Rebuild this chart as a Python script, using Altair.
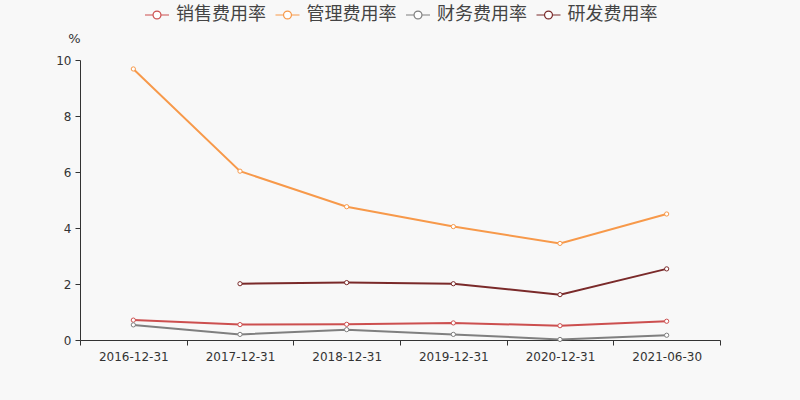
import altair as alt
import pandas as pd

dates = ["2016-12-31", "2017-12-31", "2018-12-31", "2019-12-31", "2020-12-31", "2021-06-30"]
series_names = ["销售费用率", "管理费用率", "财务费用率", "研发费用率"]
sales = [0.71, 0.55, 0.56, 0.61, 0.51, 0.67]
admin = [9.68, 6.03, 4.76, 4.05, 3.45, 4.50]
finance = [0.54, 0.20, 0.37, 0.20, 0.02, 0.17]
rnd = [None, 2.01, 2.05, 2.01, 1.62, 2.54]
colors = ["#cc4f4f", "#f7994a", "#7f7f7f", "#7a2a2a"]

rows = []
for name, vals in zip(series_names, [sales, admin, finance, rnd]):
    for d, v in zip(dates, vals):
        if v is not None:
            rows.append({"date": d, "series": name, "value": v})
df = pd.DataFrame(rows)

legend_path = ("M-1,0L-0.33,0M0.33,0L1,0"
               "M0.33,0A0.33,0.33 0 1,1 -0.33,0A0.33,0.33 0 1,1 0.33,0Z")

x_enc = alt.X("date:N", sort=dates,
              scale=alt.Scale(type="band", domain=dates, paddingInner=0, paddingOuter=0),
              axis=alt.Axis(title=None, labelAngle=0, tickBand="extent", labelFontSize=12,
                            labelColor="#333", domainColor="#333", tickColor="#333",
                            tickSize=5, labelPadding=6, labelFont="DejaVu Sans"))
y_enc = alt.Y("value:Q", scale=alt.Scale(domain=[0, 10], nice=False),
              axis=alt.Axis(title="%", titleAngle=0, titleX=-6, titleY=-22, titleAlign="center",
                            titleBaseline="middle", titleFontSize=13, titleFontWeight="normal",
                            titleColor="#333", values=[0, 2, 4, 6, 8, 10], grid=False,
                            labelFontSize=12, labelColor="#333", domainColor="#333",
                            tickColor="#333", tickSize=5, labelPadding=4, labelFont="DejaVu Sans",
                            titleFont="DejaVu Sans"))
color_enc = alt.Color("series:N",
                      scale=alt.Scale(domain=series_names, range=colors),
                      legend=alt.Legend(title=None, orient="none", direction="horizontal",
                                        legendX=64, legendY=-58,
                                        symbolType=legend_path, symbolSize=576,
                                        symbolStrokeWidth=1.2, symbolFillColor="#f8f8f8",
                                        labelFontSize=18, labelColor="#444",
                                        labelFont="Noto Sans CJK SC", labelLimit=200,
                                        labelOffset=6, columnPadding=6.5))

base = alt.Chart(df).encode(x=x_enc, y=y_enc, color=color_enc, order=alt.Order("date:N"))

lines = base.mark_line(strokeWidth=2)
points = base.mark_point(filled=False, fill="white", fillOpacity=1, size=18, strokeWidth=1, opacity=1)

chart = alt.layer(lines, points).properties(
    width=640, height=280,
    autosize=alt.AutoSizeParams(type="none"),
    padding={"left": 80, "top": 60, "right": 80, "bottom": 60},
    background="#f8f8f8",
).configure_view(stroke=None)

chart.save("out.html", embed_options={"renderer": "svg", "actions": False})
